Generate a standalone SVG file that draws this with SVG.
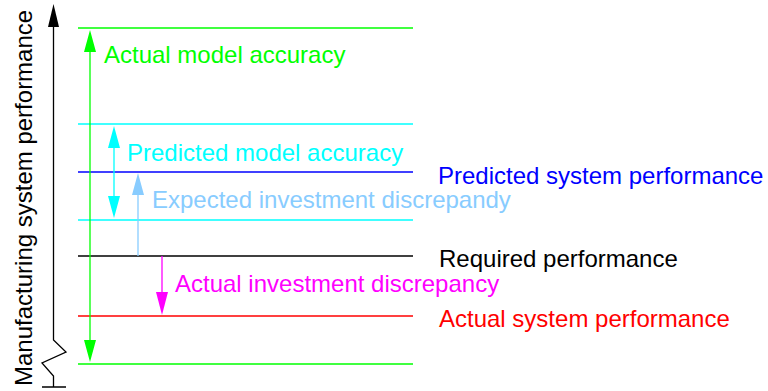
<svg xmlns="http://www.w3.org/2000/svg" width="768" height="391" viewBox="0 0 768 391">
<style>
text{font-family:"Liberation Sans",Arial,sans-serif;font-size:24px}
.l{stroke-width:1.3;fill:none}
.g{stroke:#00ff00}.gf{fill:#00ff00}
.c{stroke:#00ffff}.cf{fill:#00ffff}
.b{stroke:#0000ff}.bf{fill:#0000ff}
.k{stroke:#000}.kf{fill:#000}
.r{stroke:#ff0000}.rf{fill:#ff0000}
.m{stroke:#ff00ff}.mf{fill:#ff00ff}
.lb{stroke:#88ccff}.lbf{fill:#88ccff}
</style>
<rect width="768" height="391" fill="#fff"/>
<g id="axis">
<path class="l k" d="M53.5,27 V340 L66,352 L42,363 L53.5,376 V387 M42,387 H66"/>
<path class="kf" d="M53.5,4 L48,27 L59,27 Z"/>
<text class="kf" transform="translate(32,386) rotate(-90)">Manufacturing system performance</text>
</g>
<g id="levels">
<line class="l g" x1="78" y1="28" x2="413" y2="28"/>
<line class="l c" x1="78" y1="124" x2="413" y2="124"/>
<line class="l b" x1="78" y1="172" x2="413" y2="172"/>
<line class="l c" x1="78" y1="220" x2="413" y2="220"/>
<line class="l k" x1="78" y1="256" x2="413" y2="256"/>
<line class="l r" x1="78" y1="316" x2="413" y2="316"/>
<line class="l g" x1="78" y1="364" x2="413" y2="364"/>
</g>
<g id="connectors">
<line class="l g" x1="90" y1="50" x2="90" y2="342"/>
<path class="gf" d="M90,30 L84,52 L96,52 Z M90,362 L84,340 L96,340 Z"/>
<line class="l c" x1="114" y1="146" x2="114" y2="198"/>
<path class="cf" d="M114,126 L108,148 L120,148 Z M114,218 L108,196 L120,196 Z"/>
<line class="l lb" x1="138" y1="194" x2="138" y2="256"/>
<path class="lbf" d="M138,173 L132,195 L144,195 Z"/>
<line class="l m" x1="162" y1="256" x2="162" y2="294"/>
<path class="mf" d="M162,315 L156,292 L168,292 Z"/>
</g>
<g id="labels">
<text class="gf" x="104" y="63">Actual model accuracy</text>
<text class="cf" x="127" y="161">Predicted model accuracy</text>
<text class="bf" x="438" y="184">Predicted system performance</text>
<text class="lbf" x="152" y="208">Expected investment discrepandy</text>
<text class="kf" x="439" y="267">Required performance</text>
<text class="mf" x="175" y="292">Actual investment discrepancy</text>
<text class="rf" x="439" y="327">Actual system performance</text>
</g>
</svg>
